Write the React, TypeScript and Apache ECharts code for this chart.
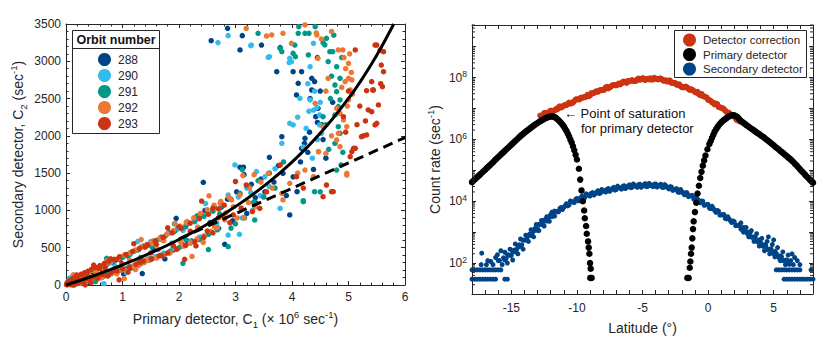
import React, { useEffect, useRef } from 'react';
import * as echarts from 'echarts';

// ---------- Left panel: C2 vs C1 by orbit ----------
const orbitNames = ['288', '290', '291', '292', '293'];
const orbitColors = ['#004488', '#33bbee', '#009988', '#ee7733', '#cc3311'];

const orbit288 = [[0.02,10],[0.08,60],[0.14,20],[0.2,95],[0.27,35],[0.33,140],[0.4,60],[0.46,180],[0.52,90],[0.58,230],[0.64,110],[0.7,260],[0.76,140],[0.82,300],[0.88,180],[0.95,340],[1.02,150],[1.08,390],[1.15,230],[1.22,460],[1.3,280],[1.37,520],[1.44,330],[1.52,560],[1.6,380],[1.68,640],[1.75,420],[1.82,700],[1.9,470],[1.98,760],[2.06,540],[2.14,820],[2.22,590],[2.3,900],[2.38,640],[2.43,1377],[2.46,1000],[2.54,700],[2.62,1050],[2.7,760],[2.81,546],[2.86,1150],[2.94,850],[3.02,1250],[3.08,1578],[3.14,1580],[3.2,960],[3.28,1350],[3.36,1100],
[0.15,37],[0.35,125],[0.55,80],[0.75,334],[0.95,226],[1.15,435],[1.35,154],[1.55,473],[1.75,349],[1.95,895],[2.15,587],[2.35,908],[2.55,837],[2.75,1046],[2.95,860],[3.15,1479],[3.35,1171],
[3.45,1420],[3.52,1250],[3.6,1713],[3.68,1380],[3.76,1600],[3.84,1498],[3.9,1200],[3.96,939],[4.02,1450],[4.09,1251],[4.15,1650],[4.22,1900],[4.28,1780],[4.31,2050],[4.35,2772],[4.38,1550],[4.4,2728],[4.42,2257],[4.46,2370],[4.5,2600],[4.55,1950],[4.52,2150],[4.23,1967],[4.17,1833],[4.08,2548],[4.11,2705],[4.17,2860],[4.02,2860],[3.73,2860],[3.82,1989],[4.35,2615],[2.57,3276],[2.86,3442],[3.08,3152],[3.12,3344],[3.46,3218],[3.79,3183],[4.45,3050],[4.6,1700],[4.72,2450],[4.45,2180],[4.32,2500]];
const orbit290 = [[0.04,50],[0.1,15],[0.16,90],[0.22,40],[0.28,130],[0.34,55],[0.4,170],[0.47,80],[0.53,210],[0.6,120],[0.66,250],[0.72,140],[0.79,300],[0.85,170],[0.92,350],[0.99,210],[1.06,400],[1.13,250],[1.2,450],[1.28,290],[1.35,510],[1.43,330],[1.5,580],[1.58,380],[1.66,620],[1.73,430],[1.8,690],[1.88,480],[1.96,740],[2.04,520],[2.12,800],[2.2,580],[2.28,870],[2.36,640],[2.44,930],[2.52,690],[2.6,1010],[2.68,760],[2.76,1080],[2.87,670],[2.99,1610],[3.05,1180],[3.12,900],[3.2,1300],[3.3,1000],[3.37,1520],
[0.07,95],[0.27,48],[0.47,197],[0.67,18],[0.87,250],[1.07,166],[1.27,584],[1.47,357],[1.67,613],[1.87,562],[2.07,732],[2.27,582],[2.47,1092],[2.67,833],[2.87,1208],[3.07,680],[3.27,1239],
[3.44,1200],[3.52,1450],[3.6,1320],[3.79,1029],[3.7,1560],[4.47,1788],[2.69,3250],[2.87,3344],[3.27,3209],[3.28,3218],[3.6,3062],[3.58,3054],[3.96,3040],[3.99,2995],[3.95,2983],[4.14,2504],[4.32,2481],[4.49,2146],[4.52,2034],[4.02,2146],[3.82,1900],[4.49,2280],[4.38,3241],[4.32,2928],[4.38,2346],[4.44,2380],[4.3,2330],[3.96,2168],[4.25,2100],[4.4,2600],[4.45,1950],[4.2,1850],[4.36,1700],[4.5,2450],[4.1,2250],[4.28,2700]];
const orbit291 = [[0.05,30],[0.11,75],[0.17,15],[0.23,110],[0.29,45],[0.35,150],[0.41,70],[0.48,195],[0.54,100],[0.6,230],[0.67,120],[0.73,280],[0.8,150],[0.86,320],[0.93,190],[1.0,370],[1.07,220],[1.14,420],[1.21,260],[1.28,470],[1.36,300],[1.44,530],[1.52,350],[1.6,600],[1.68,400],[1.76,660],[1.84,450],[1.92,720],[2.0,500],[2.07,291],[2.12,780],[2.2,560],[2.28,850],[2.36,610],[2.44,920],[2.52,680],[2.6,990],[2.68,740],[2.76,1060],[2.87,514],[2.92,1150],[3.0,820],[3.08,1230],[3.16,900],[3.24,1320],[3.34,872],
[0.12,3],[0.32,92],[0.52,44],[0.72,357],[0.92,198],[1.12,402],[1.32,370],[1.52,514],[1.72,395],[1.92,821],[2.12,609],[2.32,928],[2.52,475],[2.72,953],[2.92,763],[3.12,1548],[3.32,1109],
[3.4,1400],[3.5,1180],[3.6,1500],[3.7,1300],[3.85,1650],[4.2,1131],[4.4,1251],[4.5,1250],[4.79,1542],[4.87,1610],[4.2,1117],[3.4,3375],[3.79,3174],[4.23,3375],[4.3,3375],[4.41,3464],[4.61,3308],[4.55,3250],[4.58,3220],[4.67,3129],[4.72,3129],[4.64,2996],[4.79,2928],[4.85,2772],[4.76,2682],[4.79,2593],[4.85,2481],[4.82,2392],[4.76,2280],[4.82,2123],[4.85,2034],[4.76,1900],[4.55,2257],[4.29,3085],[4.06,3062],[4.05,3218],[3.82,3129],[4.02,3107],[4.11,3375],[4.12,3464],[4.7,2800],[4.68,2500],[4.6,2150],[4.9,1780],[4.65,1820],[4.88,3050],[4.74,3350]];
const orbit292 = [[0.01,5],[0.04,40],[0.07,15],[0.1,70],[0.13,25],[0.16,90],[0.19,40],[0.22,110],[0.25,20],[0.28,130],[0.31,60],[0.34,150],[0.37,80],[0.4,175],[0.43,50],[0.46,200],[0.5,100],[0.54,230],[0.58,90],[0.62,250],[0.66,130],[0.7,280],[0.74,120],[0.78,310],[0.82,160],[0.86,340],[0.9,150],[0.94,370],[0.98,200],[1.03,400],[1.08,190],[1.13,430],[1.18,250],[1.23,470],[1.28,260],[1.33,510],[1.38,300],[1.43,540],[1.48,330],[1.54,590],[1.6,360],[1.66,630],[1.72,400],[1.78,680],[1.84,430],[1.9,730],[1.96,480],[2.02,790],[2.08,520],[2.14,850],[2.2,560],[2.26,900],[2.32,620],[2.38,960],[2.44,660],[2.5,1010],[2.56,720],[2.62,1070],[2.68,770],[2.74,1120],[2.81,872],[2.88,1180],[2.96,1050],[3.08,1207],[3.15,900],[3.25,1300],[3.35,1050],
[0.03,2],[0.13,136],[0.23,27],[0.33,138],[0.43,108],[0.53,179],[0.63,98],[0.73,326],[0.83,192],[0.93,355],[1.03,86],[1.13,331],[1.23,207],[1.33,610],[1.43,345],[1.53,557],[1.63,476],[1.73,595],[1.83,431],[1.93,826],[2.03,575],[2.13,839],[2.23,383],[2.33,777],[2.43,571],[2.53,1196],[2.63,778],[2.73,1095],[2.83,966],[2.93,1140],[3.03,899],[3.13,1467],[3.23,1106],[3.33,1480],
[3.45,1380],[3.58,1498],[3.65,1300],[3.82,1230],[3.84,1140],[3.96,1364],[4.1,1500],[4.23,1542],[4.38,1453],[4.47,1788],[4.6,1765],[4.97,1475],[4.55,2123],[4.79,1945],[4.97,1498],[4.7,2000],[3.19,3442],[3.64,3353],[3.55,3339],[3.84,3375],[3.99,3241],[4.23,3487],[4.44,3353],[4.43,3380],[4.46,3040],[4.82,3152],[4.9,3152],[5.0,2973],[5.0,2772],[5.06,2750],[4.94,2728],[5.03,2615],[5.07,2560],[5.0,2481],[4.79,2370],[4.91,2213],[4.97,2123],[4.82,2034],[4.85,1855],[4.64,2772],[4.41,2437],[4.95,2900],[4.92,3050],[5.05,2850],[4.88,2650],[4.98,2400],[4.7,3400],[4.52,3300],[4.6,2600],[4.85,2300],[5.02,3100]];
const orbit293 = [[0.01,5],[0.02,30],[0.03,12],[0.05,50],[0.06,20],[0.08,65],[0.09,5],[0.11,80],[0.12,30],[0.14,95],[0.16,45],[0.18,110],[0.2,20],[0.22,125],[0.24,60],[0.27,145],[0.3,40],[0.33,165],[0.36,85],[0.39,185],[0.42,70],[0.45,210],[0.48,110],[0.52,235],[0.56,95],[0.6,260],[0.64,140],[0.68,290],[0.72,130],[0.76,320],[0.8,170],[0.85,345],[0.9,190],[0.95,380],[1.0,220],[1.06,410],[1.12,240],[1.18,450],[1.24,280],[1.3,490],[1.37,320],[1.44,540],[1.51,350],[1.58,590],[1.65,390],[1.72,640],[1.8,430],[1.88,700],[1.96,480],[2.04,760],[2.12,530],[2.2,830],[2.28,580],[2.36,890],[2.44,640],[2.52,950],[2.6,700],[2.7,1020],[2.8,900],[2.96,939],[3.1,1030],[3.19,1341],[3.3,985],
[0.04,10],[0.09,52],[0.14,0],[0.19,135],[0.24,42],[0.29,139],[0.34,2],[0.39,110],[0.44,28],[0.49,268],[0.54,101],[0.59,221],[0.64,165],[0.69,229],[0.74,125],[0.79,350],[0.84,195],[0.89,340],[0.94,69],[0.99,287],[1.1,173],[1.2,554],[1.3,306],[1.4,507],[1.5,430],[1.6,545],[1.7,389],[1.8,766],[1.9,528],[2.0,780],[2.1,344],[2.2,722],[2.3,524],[2.4,1126],[2.5,724],[2.6,1028],[2.7,905],[2.8,1070],[2.9,836],[3.0,1388],
[3.43,1029],[3.55,1250],[3.79,1610],[4.08,1453],[4.2,1300],[4.61,1341],[4.55,1184],[4.7,1251],[4.73,1251],[5.06,1788],[5.03,1721],[5.12,1833],[5.5,3218],[5.62,3129],[5.62,2860],[5.41,2727],[5.6,2660],[5.57,2700],[5.32,2606],[5.43,2615],[5.12,3152],[5.53,2414],[5.35,2347],[5.5,2168],[5.32,2012],[5.26,2000],[5.09,1833],[4.91,2257],[5.47,3218],[5.56,3150],[5.44,2615],[5.41,2324],[5.47,2146],[5.23,1989],[5.15,2150],[5.0,2600],[5.2,2400],[4.95,2050],[5.58,2950],[5.3,2200]];
const orbitData = [orbit288, orbit290, orbit291, orbit292, orbit293];

const deadTimeFit = [[0,0],[0.5,127.5],[1,269.8],[1.5,429.4],[2,609.8],[2.5,815.3],[3,1051.6],[3.5,1326.1],[4,1649],[4.5,2034],[5,2501.6],[5.25,2775],[5.5,3081],[5.75,3425.7],[5.8,3500]];
const linearFit = [[2.0,617],[6.0,1977]];

// ---------- Right panel: log10 of count rate (sec^-1) vs latitude ----------
const correctionLog10 = [[-12.8,6.77],[-12.6,6.78],[-12.4,6.85],[-12.2,6.86],[-12.0,6.93],[-11.8,6.91],[-11.6,6.98],[-11.4,7.04],[-11.2,7.03],[-11.0,7.09],[-10.8,7.11],[-10.6,7.19],[-10.4,7.17],[-10.2,7.24],[-10.0,7.30],[-9.8,7.29],[-9.6,7.35],[-9.4,7.37],[-9.2,7.44],[-9.0,7.42],[-8.8,7.49],[-8.6,7.54],[-8.4,7.54],[-8.2,7.60],[-8.0,7.61],[-7.8,7.68],[-7.6,7.65],[-7.4,7.71],[-7.2,7.76],[-7.0,7.75],[-6.8,7.81],[-6.6,7.81],[-6.4,7.87],[-6.2,7.83],[-6.0,7.88],[-5.8,7.92],[-5.6,7.89],[-5.4,7.94],[-5.2,7.93],[-5.0,7.98],[-4.8,7.92],[-4.6,7.96],[-4.4,7.98],[-4.2,7.94],[-4.0,7.97],[-3.8,7.94],[-3.6,7.97],[-3.4,7.90],[-3.2,7.91],[-3.0,7.90],[-2.8,7.83],[-2.6,7.83],[-2.4,7.77],[-2.2,7.78],[-2.0,7.69],[-1.8,7.69],[-1.6,7.68],[-1.4,7.60],[-1.2,7.60],[-1.0,7.54],[-0.8,7.54],[-0.6,7.43],[-0.4,7.41],[-0.2,7.38],[0.0,7.28],[0.2,7.25],[0.4,7.18],[0.6,7.16],[0.8,7.05],[1.0,7.02],[1.2,6.98],[1.4,6.89],[1.6,6.86],[1.8,6.78],[2.0,6.75],[2.2,6.62],[2.4,6.58],
[-12.7,6.75],[-12.5,6.85],[-12.3,6.85],[-12.1,6.90],[-11.9,6.92],[-11.7,6.94],[-11.5,6.97],[-11.3,7.07],[-11.1,7.06],[-10.9,7.12],[-10.7,7.14],[-10.5,7.16],[-10.3,7.19],[-10.1,7.29],[-9.9,7.29],[-9.7,7.35],[-9.5,7.36],[-9.3,7.38],[-9.1,7.40],[-8.9,7.50],[-8.7,7.50],[-8.5,7.56],[-8.3,7.575],[-8.1,7.59],[-7.9,7.61],[-7.7,7.70],[-7.5,7.69],[-7.3,7.75],[-7.1,7.755],[-6.9,7.77],[-6.7,7.78],[-6.5,7.86],[-6.3,7.84],[-6.1,7.89],[-5.9,7.89],[-5.7,7.89],[-5.5,7.89],[-5.3,7.97],[-5.1,7.94],[-4.9,7.97],[-4.7,7.955],[-4.5,7.94],[-4.3,7.93],[-4.1,7.99],[-3.9,7.95],[-3.7,7.97],[-3.5,7.935],[-3.3,7.90],[-3.1,7.87],[-2.9,7.90],[-2.7,7.83],[-2.5,7.82],[-2.3,7.765],[-2.1,7.72],[-1.9,7.68],[-1.7,7.71],[-1.5,7.63],[-1.3,7.63],[-1.1,7.57],[-0.9,7.51],[-0.7,7.46],[-0.5,7.47],[-0.3,7.38],[-0.1,7.35],[0.1,7.27],[0.3,7.20],[0.5,7.13],[0.7,7.14],[0.9,7.04],[1.1,7.01],[1.3,6.935],[1.5,6.86],[1.7,6.79],[1.9,6.79],[2.1,6.68],[2.3,6.64]];
const primaryLog10 = [[-18,4.62],[-17.75,4.72],[-17.5,4.82],[-17.25,4.92],[-17,5.02],[-16.75,5.12],[-16.5,5.22],[-16.25,5.33],[-16,5.43],[-15.75,5.53],[-15.5,5.63],[-15.25,5.73],[-15,5.83],[-14.75,5.93],[-14.5,6.03],[-14.25,6.13],[-14,6.22],[-13.75,6.3],[-13.5,6.38],[-13.25,6.46],[-13,6.53],[-12.75,6.6],[-12.5,6.66],[-12.25,6.71],[-12,6.74],[-11.8,6.74],[-11.6,6.7],[-11.4,6.62],[-11.2,6.53],[-11.0,6.42],[-10.8,6.28],[-10.6,6.1],[-10.4,5.9],[-10.2,5.65],[-10.0,5.35],[-9.85,5.05],[-9.75,4.7],[-9.65,4.35],[-9.55,4.0],[-9.45,3.7],[-9.4,3.45],[-9.3,3.2],[-9.25,2.95],[-9.15,2.7],[-9.1,2.5],[-9.05,2.3],[-9.0,2.0],[-8.95,1.82],[-8.98,1.52],[-8.88,1.52],
[-17.875,4.67],[-17.625,4.77],[-17.375,4.87],[-17.125,4.97],[-16.875,5.07],[-16.625,5.17],[-16.375,5.27],[-16.125,5.38],[-15.875,5.48],[-15.625,5.58],[-15.375,5.68],[-15.125,5.78],[-14.875,5.88],[-14.625,5.98],[-14.375,6.08],[-14.125,6.17],[-13.875,6.26],[-13.625,6.34],[-13.375,6.42],[-13.125,6.5],[-12.875,6.57],[-12.625,6.63],[-12.375,6.69],[-12.125,6.73],[-11.9,6.75],[-11.7,6.72],[-11.5,6.66],[-11.3,6.58],[-11.1,6.48],[-10.9,6.35],[-10.7,6.19],[-10.5,6.0],[-10.3,5.78],[-10.1,5.5],
[-1.58,1.52],[-1.48,1.52],[-1.4,1.85],[-1.35,2.05],[-1.3,2.3],[-1.25,2.5],[-1.2,2.8],[-1.15,3.1],[-1.1,3.35],[-1.0,3.65],[-0.9,3.95],[-0.8,4.25],[-0.7,4.5],[-0.6,4.75],[-0.5,4.95],[-0.4,5.15],[-0.3,5.32],[-0.2,5.48],[-0.05,5.68],[0.1,5.85],[0.3,6.05],[0.5,6.25],[0.75,6.42],[1.0,6.55],[1.25,6.64],[1.5,6.72],[1.75,6.77],[2.0,6.78],[2.25,6.72],[2.5,6.6],[2.75,6.52],[3.0,6.44],[3.25,6.36],[3.5,6.29],[3.75,6.21],[4.0,6.14],[4.25,6.07],[4.5,5.98],[4.75,5.9],[5.0,5.81],[5.25,5.72],[5.5,5.63],[5.75,5.55],[6.0,5.46],[6.25,5.37],[6.5,5.27],[6.75,5.16],[7.0,5.04],[7.25,4.93],[7.5,4.81],[7.75,4.7],[8.0,4.6],
[0.2,5.95],[0.4,6.15],[0.625,6.34],[0.875,6.49],[1.125,6.6],[1.375,6.68],[1.625,6.75],[1.875,6.78],[2.125,6.75],[2.375,6.66],[2.625,6.56],[2.875,6.48],[3.125,6.4],[3.375,6.33],[3.625,6.25],[3.875,6.18],[4.125,6.1],[4.375,6.02],[4.625,5.94],[4.875,5.85],[5.125,5.76],[5.375,5.68],[5.625,5.59],[5.875,5.5],[6.125,5.41],[6.375,5.32],[6.625,5.21],[6.875,5.1],[7.125,4.98],[7.375,4.87],[7.625,4.76],[7.875,4.65]];
const secondaryLog10 = [[-15.6,2.17],[-15.4,2.14],[-15.2,2.26],[-15.0,2.25],[-14.8,2.42],[-14.6,2.44],[-14.4,2.59],[-14.2,2.59],[-14.0,2.74],[-13.8,2.76],[-13.6,2.94],[-13.4,2.97],[-13.2,3.12],[-13.0,3.11],[-12.8,3.25],[-12.6,3.26],[-12.4,3.42],[-12.2,3.43],[-12.0,3.57],[-11.8,3.54],[-11.6,3.67],[-11.4,3.66],[-11.2,3.80],[-11.0,3.80],[-10.8,3.92],[-10.6,3.88],[-10.4,3.99],[-10.2,3.96],[-10.0,4.09],[-9.8,4.07],[-9.6,4.17],[-9.4,4.12],[-9.2,4.21],[-9.0,4.17],[-8.8,4.28],[-8.6,4.25],[-8.4,4.34],[-8.2,4.27],[-8.0,4.35],[-7.8,4.30],[-7.6,4.41],[-7.4,4.37],[-7.2,4.45],[-7.0,4.38],[-6.8,4.45],[-6.6,4.39],[-6.4,4.50],[-6.2,4.45],[-6.0,4.53],[-5.8,4.45],[-5.6,4.52],[-5.4,4.45],[-5.2,4.55],[-5.0,4.49],[-4.8,4.57],[-4.6,4.48],[-4.4,4.54],[-4.2,4.47],[-4.0,4.56],[-3.8,4.49],[-3.6,4.55],[-3.4,4.45],[-3.2,4.49],[-3.0,4.40],[-2.8,4.46],[-2.6,4.37],[-2.4,4.41],[-2.2,4.29],[-2.0,4.32],[-1.8,4.21],[-1.6,4.27],[-1.4,4.17],[-1.2,4.19],[-1.0,4.06],[-0.8,4.07],[-0.6,3.95],[-0.4,4.00],[-0.2,3.88],[0.0,3.90],[0.2,3.76],[0.4,3.77],[0.6,3.64],[0.8,3.68],[1.0,3.56],[1.2,3.57],[1.4,3.43],[1.6,3.43],[1.8,3.31],[2.0,3.34],[2.2,3.22],[2.4,3.23],[2.6,3.08],[2.8,3.08],[3.0,2.95],[3.2,2.97],[3.4,2.84],[3.6,2.84],[3.8,2.68],[4.0,2.67],[4.2,2.54],[4.4,2.57],[4.6,2.45],[4.8,2.46],[5.0,2.31],[5.2,2.31],[5.4,2.18],[5.6,2.21],[5.8,2.09],[6.0,2.10],[6.2,1.96],
[-15.5,2.10],[-15.3,2.27],[-15.1,2.25],[-14.9,2.37],[-14.7,2.36],[-14.5,2.51],[-14.3,2.54],[-14.1,2.74],[-13.9,2.75],[-13.7,2.89],[-13.5,2.89],[-13.3,3.04],[-13.1,3.06],[-12.9,3.25],[-12.7,3.25],[-12.5,3.38],[-12.3,3.36],[-12.1,3.50],[-11.9,3.50],[-11.7,3.68],[-11.5,3.66],[-11.3,3.77],[-11.1,3.73],[-10.9,3.86],[-10.7,3.85],[-10.5,4.01],[-10.3,3.97],[-10.1,4.06],[-9.9,4.01],[-9.7,4.12],[-9.5,4.09],[-9.3,4.24],[-9.1,4.19],[-8.9,4.26],[-8.7,4.20],[-8.5,4.29],[-8.3,4.25],[-8.1,4.38],[-7.9,4.32],[-7.7,4.39],[-7.5,4.32],[-7.3,4.41],[-7.1,4.36],[-6.9,4.49],[-6.7,4.42],[-6.5,4.48],[-6.3,4.41],[-6.1,4.49],[-5.9,4.44],[-5.7,4.56],[-5.5,4.48],[-5.3,4.54],[-5.1,4.45],[-4.9,4.53],[-4.7,4.47],[-4.5,4.58],[-4.3,4.50],[-4.1,4.55],[-3.9,4.46],[-3.7,4.52],[-3.5,4.45],[-3.3,4.54],[-3.1,4.44],[-2.9,4.47],[-2.7,4.35],[-2.5,4.39],[-2.3,4.30],[-2.1,4.38],[-1.9,4.26],[-1.7,4.28],[-1.5,4.15],[-1.3,4.18],[-1.1,4.07],[-0.9,4.14],[-0.7,4.01],[-0.5,4.01],[-0.3,3.87],[-0.1,3.89],[0.1,3.78],[0.3,3.84],[0.5,3.70],[0.7,3.70],[0.9,3.55],[1.1,3.56],[1.3,3.45],[1.5,3.50],[1.7,3.37],[1.9,3.36],[2.1,3.21],[2.3,3.22],[2.5,3.10],[2.7,3.15],[2.9,3.01],[3.1,3.00],[3.3,2.84],[3.5,2.84],[3.7,2.71],[3.9,2.75],[4.1,2.60],[4.3,2.59],[4.5,2.44],[4.7,2.45],[4.9,2.33],[5.1,2.38],[5.3,2.24],[5.5,2.23],[5.7,2.08],[5.9,2.09],[6.1,1.98],
[-17.26,2.32],[-16.57,2.05],[-16.06,2.27],[-16.4,1.95],[-16.2,2.18],[-15.9,2.08],[-15.8,2.4],[-15.7,1.95],[-15.5,2.35],[-15.3,2.0],[-15.1,2.45],[-14.9,2.1],[-14.7,2.62],[-14.5,2.3],[-14.3,2.78],[-14.1,2.45],[-13.9,2.9],[-13.7,2.7],[-13.5,3.08],[-13.3,2.85],[-13.1,3.25],[-12.9,3.05],[-12.7,3.38],[-12.5,3.2],[-12.3,3.5],[-12.1,3.35],[-11.9,3.65],[-11.7,3.52],
[2.5,3.3],[2.7,3.0],[2.9,3.15],[3.1,2.85],[3.3,3.05],[3.5,2.7],[3.7,2.95],[3.9,2.55],[4.1,2.8],[4.3,2.4],[4.5,2.7],[4.7,2.3],[4.9,2.6],[5.1,2.2],[5.3,2.5],[5.5,2.08],[5.7,2.36],[5.9,1.95],[6.1,2.26],[6.3,2.08],[6.5,1.95],[6.6,2.18],[6.8,2.08],[7.0,1.95],[6.4,2.3],[5.0,2.75],[4.6,2.85],[7.85,1.78],
[-18.0,1.48],[-17.8,1.48],[-17.6,1.48],[-17.4,1.48],[-17.2,1.48],[-17.0,1.48],[-16.8,1.48],[-16.6,1.48],[-16.4,1.48],[-16.2,1.48],[-15.5,1.48],[-15.3,1.48],
[-18.0,1.78],[-17.8,1.78],[-17.6,1.78],[-17.4,1.78],[-17.2,1.78],[-17.0,1.78],[-16.8,1.78],[-16.6,1.78],[-16.4,1.78],[-16.2,1.78],[-16.0,1.78],[-15.8,1.78],
[-17.3,1.95],[-16.9,1.95],[-16.8,2.08],[-16.0,2.08],
[5.2,1.78],[5.4,1.78],[5.6,1.78],[5.8,1.78],[6.0,1.78],[6.2,1.78],[6.4,1.78],[6.6,1.78],[6.8,1.78],[7.0,1.78],
[5.8,1.48],[6.0,1.48],[6.2,1.48],[6.4,1.48],[6.6,1.48],[6.8,1.48],[7.0,1.48],[7.2,1.48],[7.4,1.48],[7.6,1.48],[7.8,1.48],[8.0,1.48]];

const logLabelExponents = [2, 4, 6, 8];

const INK = '#262626';
const FONT = '"Liberation Sans", Arial, Helvetica, sans-serif';

export default function App() {
  const ref = useRef<HTMLDivElement>(null);
  useEffect(() => {
    if (!ref.current) return;
    const chart = echarts.init(ref.current, undefined, { renderer: 'svg' });

    const axisLine = { show: true, onZero: false, lineStyle: { color: INK, width: 1 } };
    const tick = { show: true, inside: true, length: 4, lineStyle: { color: INK, width: 1 } };
    const minor = { show: true, splitNumber: 5, length: 2.5, lineStyle: { color: INK, width: 1 } };
    const lbl = { color: INK, fontSize: 12, fontFamily: FONT };
    const nameRich = {
      n: { fontSize: 14, color: INK, fontFamily: FONT, lineHeight: 20 },
      sup: { fontSize: 9.5, color: INK, fontFamily: FONT, verticalAlign: 'top', lineHeight: 11 },
      sub: { fontSize: 9.5, color: INK, fontFamily: FONT, verticalAlign: 'bottom', lineHeight: 11 },
    };
    const dot = (color: string) => ({ color, opacity: 1, borderWidth: 0, borderColor: color });

    const minorLogTicks: number[][] = [];
    for (let n = 1; n <= 9; n++) {
      for (let k = 2; k <= 9; k++) {
        const v = n + Math.log10(k);
        if (v <= 9.7) minorLogTicks.push([-18, v]);
      }
    }

    const option: any = {
      animation: false,
      textStyle: { fontFamily: FONT },
      grid: [
        { left: 66, top: 24, width: 339, height: 261 },
        { left: 472, top: 25, width: 341, height: 269 },
      ],
      xAxis: [
        {
          gridIndex: 0, type: 'value', min: 0, max: 6, interval: 1, position: 'bottom',
          axisLine, axisTick: tick, minorTick: minor, splitLine: { show: false },
          axisLabel: { ...lbl, margin: 6, formatter: (v: number) => String(v) },
          name: '{n|Primary detector, C}{sub|1}{n| (× 10}{sup|6}{n| sec}{sup|-1}{n|)}',
          nameLocation: 'middle', nameGap: 24,
          nameTextStyle: { rich: nameRich },
        },
        {
          gridIndex: 0, type: 'value', min: 0, max: 6, interval: 1, position: 'top',
          axisLine, axisTick: tick, minorTick: minor, splitLine: { show: false },
          axisLabel: { show: false },
        },
        {
          gridIndex: 1, type: 'value', min: -18, max: 8, interval: 1, position: 'bottom',
          axisLine, axisTick: tick, splitLine: { show: false },
          axisLabel: { ...lbl, margin: 8, interval: 0, formatter: (v: number) => (v % 5 === 0 ? String(v) : '') },
          name: '{n|Latitude (°)}',
          nameLocation: 'middle', nameGap: 24,
          nameTextStyle: { rich: nameRich },
        },
        {
          gridIndex: 1, type: 'value', min: -18, max: 8, interval: 1, position: 'top',
          axisLine, axisTick: tick, splitLine: { show: false },
          axisLabel: { show: false },
        },
      ],
      yAxis: [
        {
          gridIndex: 0, type: 'value', min: 0, max: 3500, interval: 500, position: 'left',
          axisLine, axisTick: tick, minorTick: minor, splitLine: { show: false },
          axisLabel: { ...lbl, margin: 5, formatter: (v: number) => String(v) },
          name: '{n|Secondary detector, C}{sub|2}{n| (sec}{sup|-1}{n|)}',
          nameLocation: 'middle', nameGap: 38,
          nameTextStyle: { rich: nameRich },
        },
        {
          gridIndex: 0, type: 'value', min: 0, max: 3500, interval: 500, position: 'right',
          axisLine, axisTick: tick, minorTick: minor, splitLine: { show: false },
          axisLabel: { show: false },
        },
        {
          gridIndex: 1, type: 'value', min: 1, max: 9.7, interval: 1, position: 'left',
          axisLine, axisTick: tick, splitLine: { show: false },
          axisLabel: {
            ...lbl, margin: 5, interval: 0,
            formatter: (v: number) => {
              const e = Math.round(v);
              if (Math.abs(v - e) > 1e-6 || logLabelExponents.indexOf(e) < 0) return '';
              return '{b|10}{s|' + e + '}';
            },
            rich: {
              b: { fontSize: 12, color: INK, fontFamily: FONT, lineHeight: 16 },
              s: { fontSize: 8.5, color: INK, fontFamily: FONT, verticalAlign: 'top', lineHeight: 9 },
            },
          },
          name: '{n|Count rate (sec}{sup|-1}{n|)}',
          nameLocation: 'middle', nameGap: 27,
          nameTextStyle: { rich: nameRich },
        },
        {
          gridIndex: 1, type: 'value', min: 1, max: 9.7, interval: 1, position: 'right',
          axisLine, axisTick: tick, splitLine: { show: false },
          axisLabel: { show: false },
        },
      ],
      legend: [
        {
          data: orbitNames, orient: 'vertical', left: 98, top: 53, padding: 0,
          itemWidth: 13, itemHeight: 13, itemGap: 3, icon: 'circle', selectedMode: false,
          itemStyle: { borderWidth: 0 },
          textStyle: { fontSize: 12, color: INK, fontFamily: FONT, lineHeight: 13, padding: [0, 0, 0, 2] },
        },
        {
          data: ['Detector correction', 'Primary detector', 'Secondary detector'],
          orient: 'vertical', left: 683, top: 33.5, padding: 0,
          itemWidth: 13, itemHeight: 13, itemGap: 1.5, icon: 'circle', selectedMode: false,
          itemStyle: { borderWidth: 0 },
          textStyle: { fontSize: 11.5, color: INK, fontFamily: FONT, lineHeight: 13, padding: [0, 0, 0, 2] },
        },
      ],
      graphic: [
        { type: 'rect', z: 3, shape: { x: 72.5, y: 30.5, width: 87, height: 103 }, style: { fill: '#fff', stroke: INK, lineWidth: 1 } },
        { type: 'line', z: 3, shape: { x1: 72.5, y1: 48.5, x2: 159.5, y2: 48.5 }, style: { stroke: INK, lineWidth: 1 } },
        { type: 'text', z: 5, x: 116, y: 40, style: { text: 'Orbit number', fontSize: 12.5, fontWeight: 'bold', fill: '#111', fontFamily: FONT, textAlign: 'center', textVerticalAlign: 'middle' } },
        { type: 'rect', z: 3, shape: { x: 674.5, y: 30.5, width: 132, height: 47 }, style: { fill: '#fff', stroke: INK, lineWidth: 1 } },
        { type: 'text', z: 5, x: 564, y: 113, style: { text: '\u2190 Point of saturation', fontSize: 13, fill: '#111', fontFamily: FONT, textVerticalAlign: 'middle' } },
        { type: 'text', z: 5, x: 581, y: 128.5, style: { text: 'for primary detector', fontSize: 13, fill: '#111', fontFamily: FONT, textVerticalAlign: 'middle' } },
      ],
      series: [
        ...orbitNames.map((name, i) => ({
          name, type: 'scatter', xAxisIndex: 0, yAxisIndex: 0,
          data: orbitData[i], symbol: 'circle', symbolSize: 5.5,
          itemStyle: dot(orbitColors[i]), z: 2, silent: true,
        })),
        {
          name: 'fit', type: 'line', xAxisIndex: 0, yAxisIndex: 0, data: deadTimeFit,
          smooth: true, showSymbol: false, symbol: 'none',
          lineStyle: { color: '#000', width: 3 }, z: 5, silent: true,
        },
        {
          name: 'linear', type: 'line', xAxisIndex: 0, yAxisIndex: 0, data: linearFit,
          showSymbol: false, symbol: 'none',
          lineStyle: { color: '#000', width: 3, type: [10, 6] }, z: 5, silent: true,
        },
        {
          name: 'Detector correction', type: 'scatter', xAxisIndex: 2, yAxisIndex: 2,
          data: correctionLog10, symbol: 'circle', symbolSize: 6,
          itemStyle: dot('#cc3311'), z: 2, silent: true,
        },
        {
          name: 'Secondary detector', type: 'scatter', xAxisIndex: 2, yAxisIndex: 2,
          data: secondaryLog10, symbol: 'circle', symbolSize: 5,
          itemStyle: dot('#004488'), z: 2, silent: true,
        },
        {
          name: 'Primary detector', type: 'scatter', xAxisIndex: 2, yAxisIndex: 2,
          data: primaryLog10, symbol: 'circle', symbolSize: 6.5,
          itemStyle: dot('#000000'), z: 3, silent: true,
        },
        {
          name: 'minorTicks', type: 'custom', xAxisIndex: 2, yAxisIndex: 2,
          data: minorLogTicks, silent: true, z: 10, clip: false,
          renderItem: (_p: any, api: any) => {
            const v = api.value(1);
            const l = api.coord([-18, v]);
            const r = api.coord([8, v]);
            return {
              type: 'group',
              children: [
                { type: 'line', shape: { x1: l[0], y1: l[1], x2: l[0] + 3, y2: l[1] }, style: { stroke: INK, lineWidth: 1 } },
                { type: 'line', shape: { x1: r[0] - 3, y1: r[1], x2: r[0], y2: r[1] }, style: { stroke: INK, lineWidth: 1 } },
              ],
            };
          },
        },
      ],
    };

    chart.setOption(option);
    return () => chart.dispose();
  }, []);

  return <div ref={ref} style={{ position: 'fixed', left: 0, top: 0, width: 830, height: 340, background: '#fff' }} />;
}
